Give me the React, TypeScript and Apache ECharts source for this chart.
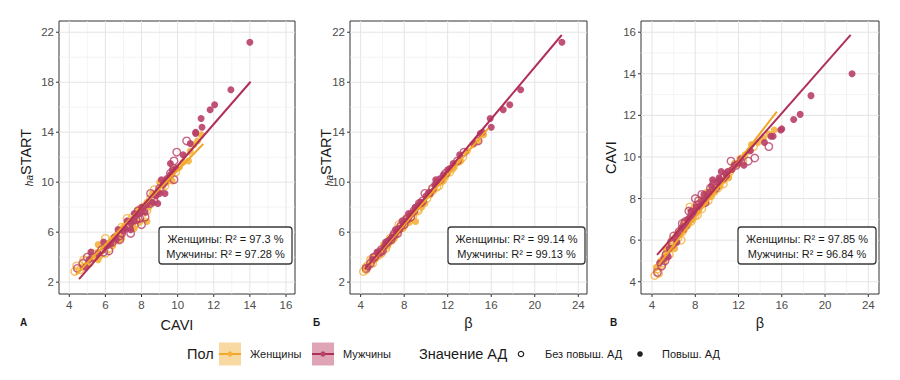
import React, { useEffect, useRef } from 'react';
import * as echarts from 'echarts';

const FONT = '"Liberation Sans", Arial, Helvetica, sans-serif';

// ---- subjects: women ----
const womenBeta = [4.25, 4.5, 4.8, 5.0, 5.2, 5.4, 5.6, 5.8, 6.0, 6.2, 6.4, 6.6, 6.8, 7.0, 7.2, 7.4, 7.5, 9.05, 7.8, 8.0, 8.3, 8.6, 8.9, 9.2, 9.5, 9.8, 10.1, 10.4, 10.7, 11.0, 11.4, 11.8, 12.2, 12.6, 13.0, 13.4, 13.8, 14.3, 14.8, 15.3, 5.1, 5.7, 6.3, 6.9, 7.3, 8.1, 8.8, 9.6, 10.3, 11.2, 12.0, 4.6,
  4.4, 4.9, 5.3, 5.9, 6.1, 6.5, 6.7, 7.1, 7.6, 7.9, 8.2, 8.5, 9.0, 9.3, 9.9, 10.6, 11.1, 11.6, 12.4, 13.2];
const womenCavi = [4.3, 4.6, 5.0, 4.9, 5.3, 5.5, 5.3, 5.6, 5.8, 5.9, 6.1, 6.3, 6.4, 6.5, 6.7, 6.8, 7.6, 8.3, 7.0, 7.2, 7.4, 7.5, 7.8, 7.9, 8.1, 8.3, 8.5, 8.8, 8.9, 9.1, 9.4, 9.6, 9.9, 10.1, 10.3, 10.5, 10.7, 10.9, 11.1, 11.3, 5.1, 5.7, 6.2, 6.7, 6.9, 7.5, 8.0, 8.4, 8.6, 9.3, 9.7, 4.4,
  4.7, 4.8, 5.6, 6.0, 5.6, 6.4, 6.0, 6.9, 6.9, 7.6, 7.2, 7.9, 7.8, 8.3, 8.5, 8.7, 9.0, 9.7, 9.8, 10.6];
const womenHa = [2.85, 3.0, 3.4, 3.7, 3.9, 4.0, 4.3, 4.4, 4.6, 4.8, 5.0, 5.2, 5.4, 5.6, 5.8, 6.0, 6.6, 6.85, 6.4, 6.6, 6.9, 7.2, 7.5, 7.8, 8.1, 8.4, 8.7, 9.0, 9.3, 9.6, 10.0, 10.4, 10.8, 11.2, 11.6, 12.0, 12.5, 13.0, 13.3, 13.8, 3.5, 4.1, 4.7, 5.3, 6.0, 6.6, 7.3, 8.0, 9.1, 9.7, 10.7, 3.3,
  3.2, 3.8, 3.8, 4.3, 5.0, 4.9, 5.5, 5.5, 6.4, 6.3, 7.1, 6.8, 7.8, 7.7, 8.3, 9.4, 10.0, 10.1, 11.1, 11.7];
const womenBp = [0, 0, 1, 0, 1, 0, 0, 1, 0, 1, 0, 1, 0, 1, 0, 1, 0, 1, 1, 0, 1, 0, 1, 0, 1, 1, 0, 1, 1, 0, 1, 1, 0, 1, 1, 0, 1, 1, 1, 1, 0, 1, 0, 1, 0, 1, 0, 1, 1, 0, 1, 0,
  1, 0, 1, 0, 1, 1, 0, 1, 0, 1, 0, 1, 1, 0, 1, 0, 1, 1, 0, 1];

// ---- subjects: men ----
const menBeta = [4.5, 4.9, 5.3, 5.6, 5.9, 6.2, 6.5, 6.7, 6.9, 7.1, 7.3, 7.5, 7.7, 7.9, 8.1, 8.3, 8.5, 8.7, 8.9, 9.1, 9.3, 9.5, 9.7, 10.0, 10.3, 10.6, 11.0, 11.4, 11.8, 12.2, 12.5, 12.9, 13.5, 14.4, 14.8, 15.0, 15.2, 15.9, 16.0, 17.1, 17.7, 18.7, 22.5, 5.1, 5.8, 6.4, 7.0, 7.6, 8.2, 8.8, 9.4, 10.2, 10.8, 11.6,
  4.7, 5.2, 5.5, 6.0, 6.3, 6.8, 7.2, 7.4, 7.8, 8.0, 8.4, 8.6, 9.0, 9.6, 9.9, 10.4, 10.9, 11.3, 12.0, 13.1];
const menCavi = [4.45, 4.75, 5.3, 5.6, 5.8, 6.1, 6.4, 6.6, 6.5, 6.9, 7.0, 7.1, 7.3, 7.4, 7.6, 7.9, 7.7, 7.9, 7.8, 8.1, 8.3, 8.6, 8.7, 8.8, 8.9, 9.0, 9.3, 9.4, 9.6, 9.9, 9.6, 9.8, 9.95, 10.7, 10.5, 11.0, 11.0, 11.3, 11.35, 11.8, 12.05, 12.95, 14.0, 5.1, 5.9, 6.3, 6.8, 7.4, 7.7, 8.2, 8.5, 9.0, 9.2, 9.6,
  4.9, 5.0, 5.2, 6.2, 5.9, 6.8, 6.7, 7.4, 7.2, 8.0, 7.6, 8.2, 8.0, 8.9, 8.5, 9.3, 9.1, 9.8, 9.7, 10.3];
const menHa = [3.1, 3.5, 4.0, 4.3, 4.6, 4.9, 5.2, 5.4, 5.6, 5.9, 6.1, 6.3, 6.5, 6.7, 6.9, 7.1, 7.3, 7.5, 7.7, 8.0, 8.2, 8.4, 8.5, 8.9, 9.2, 9.5, 10.0, 10.3, 10.7, 11.1, 11.5, 11.7, 12.4, 13.1, 13.3, 13.9, 14.0, 15.1, 14.4, 15.8, 16.2, 17.4, 21.2, 3.8, 4.4, 5.1, 5.7, 6.2, 7.0, 7.6, 8.3, 9.1, 9.8, 10.6,
  3.2, 4.0, 4.4, 4.5, 5.2, 5.4, 6.2, 5.9, 6.9, 6.6, 7.5, 7.2, 8.0, 8.3, 9.1, 9.1, 10.2, 10.2, 11.0, 12.2];
const menBp = [0, 0, 0, 1, 0, 1, 0, 1, 1, 0, 1, 1, 0, 1, 1, 0, 1, 1, 0, 1, 1, 1, 0, 1, 1, 0, 1, 1, 0, 1, 1, 0, 0, 1, 0, 1, 1, 1, 1, 1, 1, 1, 1, 1, 0, 1, 0, 1, 0, 1, 0, 1, 1, 1,
  1, 0, 1, 0, 1, 0, 1, 0, 1, 0, 1, 0, 1, 1, 0, 1, 1, 0, 1, 1];

// ---- fitted lines (endpoints) ----
const fitAWomen = [[4.37, 2.6], [11.42, 13.06]];
const fitAMen = [[4.54, 2.24], [14.04, 18.04]];
const fitBWomen = [[4.24, 2.84], [15.73, 14.31]];
const fitBMen = [[4.4, 3.04], [22.48, 21.78]];
const fitCWomen = [[4.6, 4.81], [15.54, 12.18]];
const fitCMen = [[4.46, 5.29], [22.37, 15.87]];

// ---- R² labels ----
const r2A = ['Женщины: R² = 97.3 %', 'Мужчины: R² = 97.28 %'];
const r2B = ['Женщины: R² = 99.14 %', 'Мужчины: R² = 99.13 %'];
const r2C = ['Женщины: R² = 97.85 %', 'Мужчины: R² = 96.84 %'];

// ---- ticks ----
const caviXTicks = [4, 6, 8, 10, 12, 14, 16];
const caviXMinor = [5, 7, 9, 11, 13, 15];
const haTicks = [2, 6, 10, 14, 18, 22];
const haMinor = [4, 8, 12, 16, 20];
const betaTicks = [4, 8, 12, 16, 20, 24];
const betaMinor = [6, 10, 14, 18, 22];
const caviYTicks = [4, 6, 8, 10, 12, 14, 16];
const caviYMinor = [5, 7, 9, 11, 13, 15];

const WOMEN_LINE = '#F2A62A';
const WOMEN_PT = '#F4B23C';
const MEN_LINE = '#B02F59';
const MEN_PT = '#B83F66';

function pick(xs: number[], ys: number[], bp: number[], flag: number) {
  const out: number[][] = [];
  for (let i = 0; i < xs.length; i++) if (bp[i] === flag) out.push([xs[i], ys[i]]);
  return out;
}

const TOP = 21;
const HEIGHT = 273;

const panels = [
  {
    left: 59, width: 236, xMin: 3.43, xMax: 16.5, yMin: 1.05, yMax: 22.9,
    wx: womenCavi, wy: womenHa, mx: menCavi, my: menHa,
    fitW: fitAWomen, fitM: fitAMen, r2: r2A,
    xt: caviXTicks, xm: caviXMinor, yt: haTicks, ym: haMinor,
    xName: 'CAVI', yName: '{sub|ha}{main|START}', xGap: 23, yGap: 25,
    letter: 'А', letterX: 20, box: [159, 292],
  },
  {
    left: 350, width: 237, xMin: 3.02, xMax: 24.8, yMin: 1.05, yMax: 22.9,
    wx: womenBeta, wy: womenHa, mx: menBeta, my: menHa,
    fitW: fitBWomen, fitM: fitBMen, r2: r2B,
    xt: betaTicks, xm: betaMinor, yt: haTicks, ym: haMinor,
    xName: 'β', yName: '{sub|ha}{main|START}', xGap: 21, yGap: 16,
    letter: 'Б', letterX: 313, box: [448, 585],
  },
  {
    left: 641, width: 238, xMin: 2.98, xMax: 24.99, yMin: 3.41, yMax: 16.54,
    wx: womenBeta, wy: womenCavi, mx: menBeta, my: menCavi,
    fitW: fitCWomen, fitM: fitCMen, r2: r2C,
    xt: betaTicks, xm: betaMinor, yt: caviYTicks, ym: caviYMinor,
    xName: 'β', yName: 'CAVI', xGap: 21, yGap: 23,
    letter: 'В', letterX: 610, box: [738, 876],
  },
];

function txt(text: string, x: number, y: number, size: number, align: string, extra: any = {}) {
  return {
    type: 'text', x, y, silent: true,
    style: {
      text, fill: extra.fill || '#1a1a1a', font: `${extra.weight || 'normal'} ${size}px ${FONT}`,
      fontSize: size, fontFamily: FONT, fontWeight: extra.weight || 'normal',
      textAlign: align, textVerticalAlign: 'middle', align, verticalAlign: 'middle',
    },
  };
}

function buildOption() {
  const grid: any[] = [];
  const xAxis: any[] = [];
  const yAxis: any[] = [];
  const series: any[] = [];
  const graphic: any[] = [];

  panels.forEach((p, i) => {
    grid.push({
      left: p.left, top: TOP, width: p.width, height: HEIGHT,
      show: true, borderColor: '#333333', borderWidth: 1, backgroundColor: '#ffffff',
      containLabel: false, outerBoundsMode: 'none',
    });
    xAxis.push({
      type: 'value', gridIndex: i, min: p.xMin, max: p.xMax,
      axisLine: { show: false }, axisTick: { show: false }, axisLabel: { show: false },
      splitLine: { show: false },
      name: p.xName, nameLocation: 'middle', nameGap: p.xGap,
      nameTextStyle: { color: '#1a1a1a', fontSize: 14.5, fontFamily: FONT },
    });
    yAxis.push({
      type: 'value', gridIndex: i, min: p.yMin, max: p.yMax,
      axisLine: { show: false }, axisTick: { show: false }, axisLabel: { show: false },
      splitLine: { show: false },
      name: p.yName, nameLocation: 'middle', nameGap: p.yGap, nameRotate: 90,
      nameTextStyle: {
        color: '#1a1a1a', fontSize: 14.5, fontFamily: FONT,
        rich: {
          sub: { fontSize: 10, fontStyle: 'italic', fontFamily: FONT, color: '#1a1a1a', verticalAlign: 'bottom', lineHeight: 17 },
          main: { fontSize: 14.5, fontFamily: FONT, color: '#1a1a1a', lineHeight: 17 },
        },
      },
    });

    // gridlines
    const gridData: number[][] = [];
    p.xm.forEach((v) => gridData.push([v, p.yMin, 0]));
    p.xt.forEach((v) => gridData.push([v, p.yMin, 1]));
    p.ym.forEach((v) => gridData.push([p.xMin, v, 2]));
    p.yt.forEach((v) => gridData.push([p.xMin, v, 3]));
    series.push({
      type: 'custom', xAxisIndex: i, yAxisIndex: i, silent: true, z: 1, clip: false,
      data: gridData,
      renderItem: (_params: any, api: any) => {
        const k = api.value(2);
        let a, b;
        if (k < 2) {
          a = api.coord([api.value(0), p.yMin]);
          b = api.coord([api.value(0), p.yMax]);
        } else {
          a = api.coord([p.xMin, api.value(1)]);
          b = api.coord([p.xMax, api.value(1)]);
        }
        const major = k === 1 || k === 3;
        return {
          type: 'line',
          shape: { x1: a[0], y1: a[1], x2: b[0], y2: b[1] },
          style: { stroke: major ? '#E4E4E4' : '#EFEFEF', lineWidth: major ? 1 : 0.7 },
        };
      },
    });

    // ticks + tick labels
    const tickData: number[][] = [];
    p.xt.forEach((v) => tickData.push([v, p.yMin, 0]));
    p.yt.forEach((v) => tickData.push([p.xMin, v, 1]));
    series.push({
      type: 'custom', xAxisIndex: i, yAxisIndex: i, silent: true, z: 5, clip: false,
      data: tickData,
      renderItem: (_params: any, api: any) => {
        const k = api.value(2);
        if (k === 0) {
          const v = api.value(0);
          const a = api.coord([v, p.yMin]);
          return {
            type: 'group',
            children: [
              { type: 'line', shape: { x1: a[0], y1: a[1], x2: a[0], y2: a[1] + 3 }, style: { stroke: '#333', lineWidth: 1 } },
              {
                type: 'text', x: a[0], y: a[1] + 5,
                style: {
                  text: String(v), fill: '#4D4D4D', font: `11.5px ${FONT}`, fontSize: 11.5, fontFamily: FONT,
                  textAlign: 'center', textVerticalAlign: 'top', align: 'center', verticalAlign: 'top',
                },
              },
            ],
          };
        }
        const v = api.value(1);
        const a = api.coord([p.xMin, v]);
        return {
          type: 'group',
          children: [
            { type: 'line', shape: { x1: a[0] - 3, y1: a[1], x2: a[0], y2: a[1] }, style: { stroke: '#333', lineWidth: 1 } },
            {
              type: 'text', x: a[0] - 5, y: a[1],
              style: {
                text: String(v), fill: '#4D4D4D', font: `11.5px ${FONT}`, fontSize: 11.5, fontFamily: FONT,
                textAlign: 'right', textVerticalAlign: 'middle', align: 'right', verticalAlign: 'middle',
              },
            },
          ],
        };
      },
    });

    const open = (color: string) => ({ color: 'rgba(255,255,255,0)', borderColor: color, borderWidth: 1.4 });
    const fill = (color: string) => ({ color, opacity: 0.9 });
    series.push(
      { type: 'scatter', name: 'Женщины, без повыш. АД', xAxisIndex: i, yAxisIndex: i, z: 2, silent: true, symbolSize: 7.5, itemStyle: open(WOMEN_PT), data: pick(p.wx, p.wy, womenBp, 0) },
      { type: 'scatter', name: 'Женщины, повыш. АД', xAxisIndex: i, yAxisIndex: i, z: 2, silent: true, symbolSize: 7, itemStyle: fill(WOMEN_PT), data: pick(p.wx, p.wy, womenBp, 1) },
      { type: 'scatter', name: 'Мужчины, без повыш. АД', xAxisIndex: i, yAxisIndex: i, z: 2, silent: true, symbolSize: 7.5, itemStyle: open(MEN_PT), data: pick(p.mx, p.my, menBp, 0) },
      { type: 'scatter', name: 'Мужчины, повыш. АД', xAxisIndex: i, yAxisIndex: i, z: 2, silent: true, symbolSize: 7, itemStyle: fill(MEN_PT), data: pick(p.mx, p.my, menBp, 1) },
      { type: 'line', name: 'Женщины (регрессия)', xAxisIndex: i, yAxisIndex: i, z: 3, silent: true, symbol: 'none', lineStyle: { color: WOMEN_LINE, width: 2 }, data: p.fitW },
      { type: 'line', name: 'Мужчины (регрессия)', xAxisIndex: i, yAxisIndex: i, z: 3, silent: true, symbol: 'none', lineStyle: { color: MEN_LINE, width: 2 }, data: p.fitM },
    );

    // R² box
    const [bx0, bx1] = p.box;
    const cx = (bx0 + bx1) / 2;
    graphic.push({
      type: 'rect', silent: true, z: 10,
      shape: { x: bx0, y: 227, width: bx1 - bx0, height: 37, r: 3 },
      style: { fill: 'rgba(255,255,255,0.92)', stroke: '#3a3a3a', lineWidth: 1.3 },
    });
    graphic.push({ ...txt(p.r2[0], cx, 238.5, 11, 'center'), z: 11 });
    graphic.push({ ...txt(p.r2[1], cx, 253.5, 11, 'center'), z: 11 });

    // panel letter
    graphic.push(txt(p.letter, p.letterX, 322, 10, 'left', { weight: 'bold' }));
  });

  // legend
  const LY = 354;
  graphic.push(txt('Пол', 187, LY, 14.5, 'left'));
  graphic.push({ type: 'rect', silent: true, shape: { x: 219, y: 342.5, width: 22, height: 23 }, style: { fill: '#F9D9A2' } });
  graphic.push({ type: 'line', silent: true, shape: { x1: 219, y1: LY, x2: 241, y2: LY }, style: { stroke: WOMEN_LINE, lineWidth: 2 } });
  graphic.push({ type: 'circle', silent: true, shape: { cx: 230, cy: LY, r: 2.6 }, style: { fill: WOMEN_PT } });
  graphic.push(txt('Женщины', 250, LY, 11, 'left'));
  graphic.push({ type: 'rect', silent: true, shape: { x: 312, y: 342.5, width: 22, height: 23 }, style: { fill: '#DFA4B5' } });
  graphic.push({ type: 'line', silent: true, shape: { x1: 312, y1: LY, x2: 334, y2: LY }, style: { stroke: MEN_LINE, lineWidth: 2 } });
  graphic.push({ type: 'circle', silent: true, shape: { cx: 323, cy: LY, r: 2.6 }, style: { fill: MEN_PT } });
  graphic.push(txt('Мужчины', 343, LY, 11, 'left'));
  graphic.push(txt('Значение АД', 419, LY, 14.5, 'left'));
  graphic.push({ type: 'circle', silent: true, shape: { cx: 521, cy: LY, r: 2.7 }, style: { fill: 'none', stroke: '#222', lineWidth: 1.2 } });
  graphic.push(txt('Без повыш. АД', 545, LY, 11, 'left'));
  graphic.push({ type: 'circle', silent: true, shape: { cx: 640, cy: LY, r: 2.8 }, style: { fill: '#222' } });
  graphic.push(txt('Повыш. АД', 662, LY, 11, 'left'));

  return {
    animation: false,
    backgroundColor: '#ffffff',
    grid, xAxis, yAxis, series, graphic,
  };
}

export default function App() {
  const ref = useRef<HTMLDivElement>(null);
  useEffect(() => {
    if (!ref.current) return;
    const chart = echarts.init(ref.current, undefined, { renderer: 'svg' });
    chart.setOption(buildOption() as any);
    return () => chart.dispose();
  }, []);
  return <div ref={ref} style={{ position: 'fixed', left: 0, top: 0, width: 900, height: 380 }} />;
}
